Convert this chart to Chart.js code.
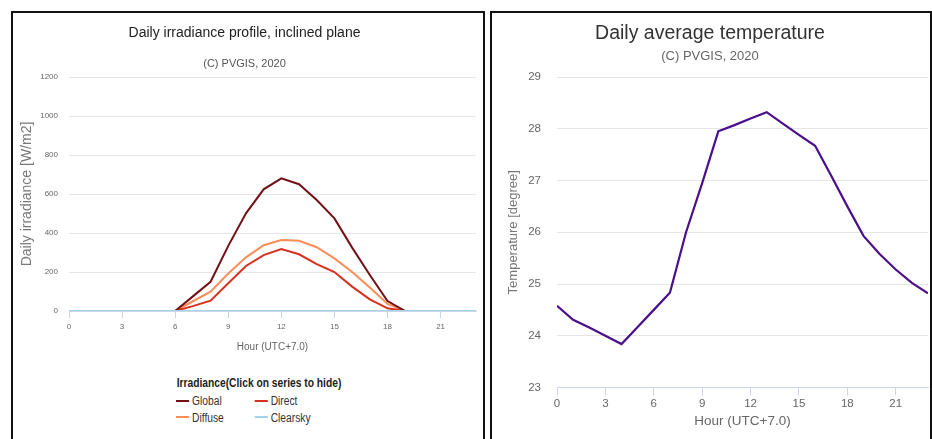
<!DOCTYPE html>
<html>
<head>
<meta charset="utf-8">
<script src="https://cdn.jsdelivr.net/npm/chart.js@4.4.1/dist/chart.umd.min.js"></script>
<style>
  html, body { margin: 0; padding: 0; background: #fff; width: 932px; height: 439px; overflow: hidden; }
  .panel { position: absolute; top: 11px; height: 440px; border: 2px solid #111; background: #fff; }
  #left { left: 11px; width: 470px; }
  #right { left: 490px; width: 438px; }
  .panel canvas { position: absolute; left: 0; top: 0; }
  /* the original left panel is squeezed sideways, hence the scaleX */
  .legend-title {
    position: absolute; left: 245.5px; top: 362px;
    transform: translateX(-50%) scaleX(0.82);
    font: bold 12.5px 'Liberation Sans', Arial, sans-serif;
    color: #222; line-height: 16px; white-space: nowrap;
  }
  .legend-items {
    position: absolute; left: 162.7px; top: 380px;
    transform: scaleX(0.82); transform-origin: 0 0;
    display: grid; grid-template-columns: 95.9px auto;
    font: 12.5px 'Liberation Sans', Arial, sans-serif;
    color: #333; line-height: 16.5px;
  }
  .legend-items div { cursor: pointer; white-space: nowrap; }
  .legend-items span { display: inline-block; width: 15.9px; height: 2px; vertical-align: middle; margin-right: 3.7px; position: relative; top: -1px; }
  .legend-items div.off { color: #ccc; }
</style>
</head>
<body>
<div class="panel" id="left">
  <canvas id="irr-chart" width="470" height="345"></canvas>
  <div class="legend-title">Irradiance(Click on series to hide)</div>
  <div class="legend-items" id="irr-legend"></div>
</div>
<div class="panel" id="right">
  <canvas id="temp-chart" width="438" height="420"></canvas>
</div>
<script>
(function () {
  "use strict";

  // Data (hour of day, UTC+7)
  const hours = [0,1,2,3,4,5,6,7,8,9,10,11,12,13,14,15,16,17,18,19,20,21,22,23];
  const hourTicks = [0,3,6,9,12,15,18,21];
  const irrTicks = [0,200,400,600,800,1000,1200];
  const tempTicks = [23,24,25,26,27,28,29];

  const seriesNames = ["Global", "Direct", "Diffuse", "Clearsky"];
  const globalIrr   = [0,0,0,0,0,0,0,75,150,334,501,624,680,650,569,475,325,185,51,0,0,0,0,0];
  const directIrr   = [0,0,0,0,0,0,0,25,53,142,231,287,318,291,240,200,125,60,14,0,0,0,0,0];
  const diffuseIrr  = [0,0,0,0,0,0,0,50,99,192,275,337,364,360,327,270,200,120,36,0,0,0,0,0];
  const clearskyIrr = [0,0,0,0,0,0,0,0,0,0,0,0,0,0,0,0,0,0,0,0,0,0,0,0];

  const temperature = [24.58,24.31,24.16,24.0,23.84,24.17,24.5,24.83,26.0,26.95,27.95,28.07,
                       28.2,28.32,28.1,27.88,27.67,27.09,26.5,25.93,25.58,25.28,25.02,24.82];

  const SANS = "'Liberation Sans', Arial, sans-serif";
  const AXIS_BLUE = "#ccd6eb";
  const GRID = "#e6e6e6";

  const points = (vals) => hours.map((h, i) => ({ x: h, y: vals[i] }));
  const setTicks = (list) => (scale) => { scale.ticks = list.map((v) => ({ value: v })); };

  // Left: irradiance profile
  const irrColors = ["#731014", "#d7301f", "#fc8d59", "#a6d2e6"];
  const irrValues = [globalIrr, directIrr, diffuseIrr, clearskyIrr];

  const irrChart = new Chart(document.getElementById("irr-chart").getContext("2d"), {
    type: "line",
    data: {
      datasets: seriesNames.map((name, i) => ({
        label: name,
        data: points(irrValues[i]),
        borderColor: irrColors[i],
        backgroundColor: irrColors[i],
        borderWidth: 2,
        pointRadius: 0,
        tension: 0,
        order: name === "Clearsky" ? 0 : 1
      }))
    },
    options: {
      responsive: false,
      animation: false,
      layout: { padding: { left: 0, right: 7, top: 0, bottom: 5 } },
      plugins: {
        legend: { display: false },
        tooltip: { enabled: false },
        title: {
          display: true, text: "Daily irradiance profile, inclined plane", color: "#222",
          font: { family: SANS, size: 14, weight: "normal" }, padding: { top: 11.6, bottom: 15.5 }
        },
        subtitle: {
          display: true, text: "(C) PVGIS, 2020", color: "#555",
          font: { family: SANS, size: 11, weight: "normal" }, padding: { top: 0, bottom: 6.9 }
        }
      },
      scales: {
        x: {
          type: "linear", min: 0, max: 23,
          afterBuildTicks: setTicks(hourTicks),
          afterFit: (s) => { s.height = 42; },
          border: { color: AXIS_BLUE },
          grid: { drawOnChartArea: false, color: AXIS_BLUE, tickLength: 7 },
          ticks: { color: "#666", font: { family: SANS, size: 8 }, padding: 3.5, maxRotation: 0, callback: (v) => String(v) },
          title: { display: true, text: "Hour (UTC+7.0)", color: "#666", font: { family: SANS, size: 10 }, padding: 0 }
        },
        y: {
          min: 0, max: 1200,
          afterBuildTicks: setTicks(irrTicks),
          afterFit: (s) => { s.width = 56; },
          border: { display: false },
          grid: { color: GRID, drawTicks: false },
          ticks: { color: "#666", font: { family: SANS, size: 8 }, padding: 11, callback: (v) => String(v) },
          title: { display: true, text: "Daily irradiance [W/m2]", color: "#777", font: { family: SANS, size: 14 }, padding: { top: 6.1, bottom: 0 } }
        }
      }
    }
  });

  // HTML legend, two columns like the original
  const legendBox = document.getElementById("irr-legend");
  irrChart.data.datasets.forEach((ds, i) => {
    const item = document.createElement("div");
    item.innerHTML = '<span style="background:' + ds.borderColor + '"></span>' + ds.label;
    item.onclick = function () {
      const vis = irrChart.isDatasetVisible(i);
      irrChart.setDatasetVisibility(i, !vis);
      item.classList.toggle("off", vis);
      irrChart.update();
    };
    legendBox.appendChild(item);
  });

  // Right: daily average temperature
  new Chart(document.getElementById("temp-chart").getContext("2d"), {
    type: "line",
    data: {
      datasets: [{
        label: "Temperature",
        data: points(temperature),
        borderColor: "#4b0f8c",
        borderWidth: 2.2,
        pointRadius: 0,
        tension: 0
      }]
    },
    options: {
      responsive: false,
      animation: false,
      layout: { padding: { left: 0, right: 2, top: 0, bottom: 3.9 } },
      plugins: {
        legend: { display: false },
        tooltip: { enabled: false },
        title: {
          display: true, text: "Daily average temperature", color: "#333",
          font: { family: SANS, size: 19.5, weight: "normal" }, padding: { top: 8.8, bottom: 3 }
        },
        subtitle: {
          display: true, text: "(C) PVGIS, 2020", color: "#666",
          font: { family: SANS, size: 13, weight: "normal" }, padding: { top: 0, bottom: 13.2 }
        }
      },
      scales: {
        x: {
          type: "linear", min: 0, max: 23,
          afterBuildTicks: setTicks(hourTicks),
          afterFit: (s) => { s.height = 41.6; },
          border: { color: AXIS_BLUE },
          grid: { drawOnChartArea: false, color: AXIS_BLUE, tickLength: 8 },
          ticks: { color: "#666", font: { family: SANS, size: 11.5 }, padding: 1, maxRotation: 0, callback: (v) => String(v) },
          title: { display: true, text: "Hour (UTC+7.0)", color: "#666", font: { family: SANS, size: 13.5 }, padding: 0 }
        },
        y: {
          min: 23, max: 29,
          afterBuildTicks: setTicks(tempTicks),
          afterFit: (s) => { s.width = 65; },
          border: { display: false },
          grid: { color: GRID, drawTicks: false },
          ticks: { color: "#666", font: { family: SANS, size: 11.5 }, padding: 16, callback: (v) => String(v) },
          title: { display: true, text: "Temperature [degree]", color: "#777", font: { family: SANS, size: 13 }, padding: { top: 13.2, bottom: 0 } }
        }
      }
    }
  });
})();
</script>
</body>
</html>
